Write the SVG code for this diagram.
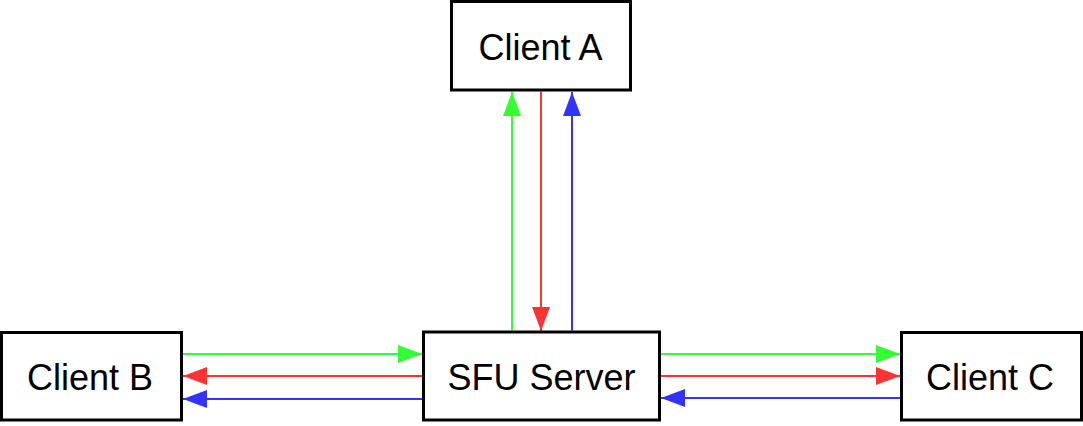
<svg xmlns="http://www.w3.org/2000/svg" width="1083" height="426" viewBox="0 0 1083 426">
<style>
.box{fill:#fff;stroke:#000;stroke-width:3}
.lbl{font-family:"Liberation Sans",Arial,Helvetica,sans-serif;font-size:36px;fill:#000;text-anchor:middle}
.g{stroke:#33ff33;stroke-width:2;fill:none}
.r{stroke:#ff3333;stroke-width:2;fill:none}
.b{stroke:#3333ff;stroke-width:2;fill:none}
</style>
<defs>
<marker id="ag" markerUnits="userSpaceOnUse" markerWidth="24" markerHeight="18" refX="24" refY="9" orient="auto" overflow="visible"><path d="M0,0 L24,9 L0,18 z" fill="#33ff33"/></marker>
<marker id="ar" markerUnits="userSpaceOnUse" markerWidth="24" markerHeight="18" refX="24" refY="9" orient="auto" overflow="visible"><path d="M0,0 L24,9 L0,18 z" fill="#ff3333"/></marker>
<marker id="ab" markerUnits="userSpaceOnUse" markerWidth="24" markerHeight="18" refX="24" refY="9" orient="auto" overflow="visible"><path d="M0,0 L24,9 L0,18 z" fill="#3333ff"/></marker>
</defs>
<rect width="1083" height="426" fill="#fff"/>
<g id="connectors">
<line class="g" x1="512" y1="330.5" x2="512" y2="92" marker-end="url(#ag)"/>
<line class="r" x1="541" y1="91.5" x2="541" y2="331" marker-end="url(#ar)"/>
<line class="b" x1="572" y1="330.5" x2="572" y2="92" marker-end="url(#ab)"/>
<line class="g" x1="183" y1="354" x2="422" y2="354" marker-end="url(#ag)"/>
<line class="r" x1="422" y1="376" x2="183" y2="376" marker-end="url(#ar)"/>
<line class="b" x1="422" y1="399" x2="183" y2="399" marker-end="url(#ab)"/>
<line class="g" x1="661" y1="354" x2="900" y2="354" marker-end="url(#ag)"/>
<line class="r" x1="661" y1="376" x2="900" y2="376" marker-end="url(#ar)"/>
<line class="b" x1="900" y1="398" x2="661" y2="398" marker-end="url(#ab)"/>
</g>
<g id="clientA">
<rect class="box" x="451.5" y="1.5" width="179" height="88.5"/>
<text class="lbl" x="540.5" y="59.5">Client A</text>
</g>
<g id="sfu">
<rect class="box" x="423.5" y="332" width="236" height="88"/>
<text class="lbl" x="541.5" y="389.5">SFU Server</text>
</g>
<g id="clientB">
<rect class="box" x="1.5" y="332.5" width="180" height="87.5"/>
<text class="lbl" x="90" y="389.5">Client B</text>
</g>
<g id="clientC">
<rect class="box" x="901.5" y="332.5" width="180" height="87.5"/>
<text class="lbl" x="990" y="389.5">Client C</text>
</g>
</svg>
